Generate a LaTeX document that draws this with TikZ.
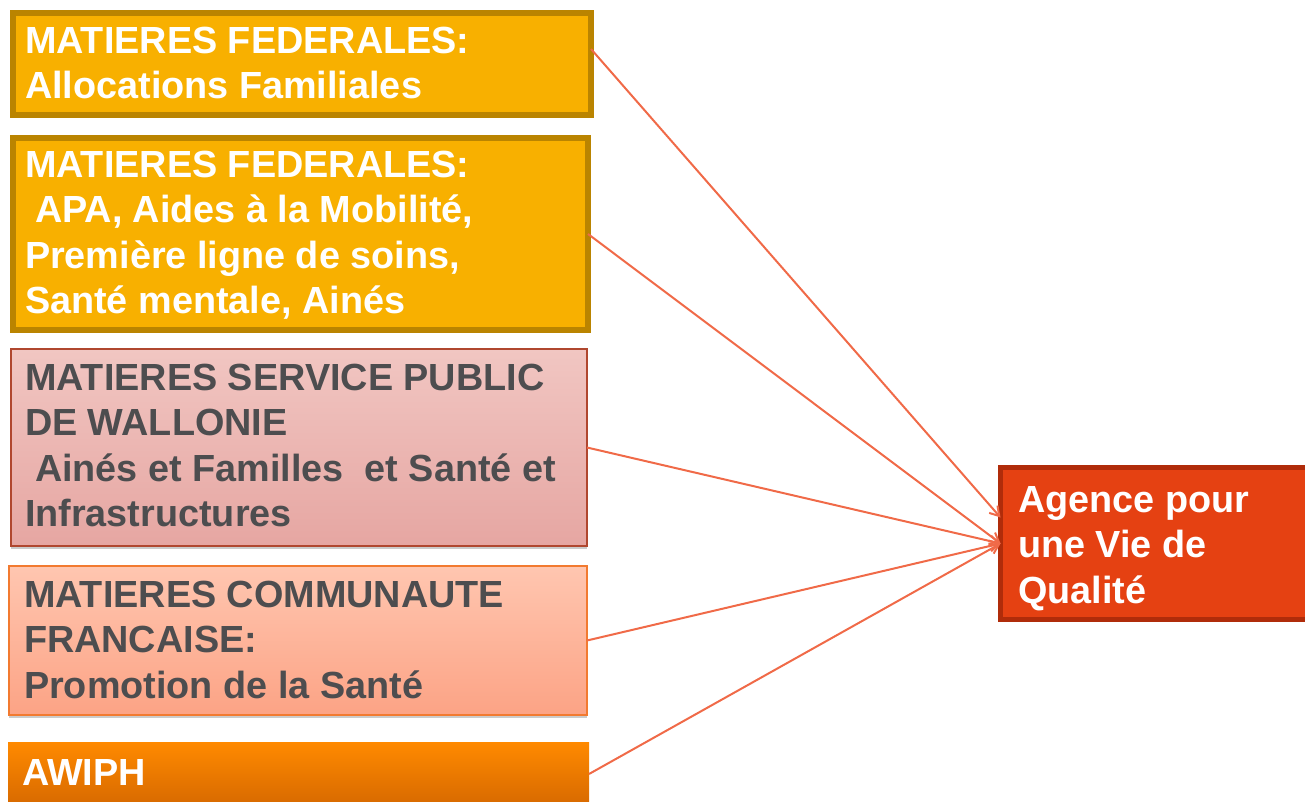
\documentclass[tikz,border=0pt]{standalone}
\usepackage{fontspec}
\setmainfont{Liberation Sans}
\usetikzlibrary{arrows.meta,shadows}
\definecolor{fedfill}{HTML}{F8B000}
\definecolor{fedline}{HTML}{BA8400}
\definecolor{spwtop}{HTML}{F1C6C2}
\definecolor{spwbot}{HTML}{E6A6A2}
\definecolor{spwline}{HTML}{B0472F}
\definecolor{cftop}{HTML}{FFC6B0}
\definecolor{cfbot}{HTML}{FCA385}
\definecolor{cfline}{HTML}{F27A30}
\definecolor{awtop}{HTML}{FF8A00}
\definecolor{awbot}{HTML}{D86A00}
\definecolor{agfill}{HTML}{E54112}
\definecolor{agline}{HTML}{B02C0A}
\definecolor{greytext}{HTML}{4D4D4F}
\definecolor{arrowcol}{HTML}{F06A48}
\newcommand\boxcontent[4]{\parbox[b][#2][t]{#1}{\fontsize{37.8bp}{45.5bp}\selectfont\bfseries\raggedright\rule{0pt}{#3}#4}}
\tikzset{
  box/.style={anchor=north west, inner ysep=0pt, outer sep=0pt, rectangle},
  shade3/.style={drop shadow={shadow xshift=0bp, shadow yshift=-3bp, fill=black!45, opacity=.45}},
  fedbox/.style={box, draw=fedline, fill=fedfill, line width=6bp, text=white, inner xsep=12bp},
  spwbox/.style={box, draw=spwline, top color=spwtop, bottom color=spwbot, line width=2.2bp, text=greytext, inner xsep=14bp, shade3},
  cfbox/.style={box, draw=cfline, top color=cftop, bottom color=cfbot, line width=2bp, text=greytext, inner xsep=15bp, shade3},
  awbox/.style={box, top color=awtop, bottom color=awbot, text=white, inner xsep=14bp},
  agbox/.style={box, draw=agline, fill=agfill, line width=5bp, text=white, inner xsep=17.5bp},
  arr/.style={draw=arrowcol, line width=2bp, -{Straight Barb[length=9bp,width=11bp]}}
}
\begin{document}
\begin{tikzpicture}[x=1bp,y=-1bp]
\useasboundingbox (0,0) rectangle (1305,801);
\node[fedbox] (f1) at (13,13) {\boxcontent{554bp}{102bp}{40bp}{MATIERES FEDERALES:\\Allocations Familiales}};
\node[fedbox] (f2) at (13,138) {\boxcontent{551bp}{192bp}{39bp}{MATIERES FEDERALES:\\\hspace*{10bp}APA, Aides à la Mobilité,\\Première ligne de soins,\\Santé mentale, Ainés}};
\node[spwbox] (spw) at (11,349) {\boxcontent{548bp}{197bp}{41bp}{MATIERES SERVICE PUBLIC\\DE WALLONIE\\\hspace*{10bp}Ainés et Familles\ \ et Santé et\\Infrastructures}};
\node[cfbox] (cf) at (9,566) {\boxcontent{548bp}{149bp}{41bp}{MATIERES COMMUNAUTE\\FRANCAISE:\\Promotion de la Santé}};
\node[awbox] (aw) at (8,742) {\boxcontent{553bp}{62bp}{43bp}{AWIPH}};
\node[agbox] (ag) at (1000.5,467.5) {\boxcontent{274.5bp}{152bp}{44.5bp}{Agence pour\\une Vie de\\Qualité}};
\draw[arr] ([yshift=15bp]f1.east) -- ([yshift=26bp]ag.west);
\draw[arr] (f2.east) -- (ag.west);
\draw[arr] (spw.east) -- (ag.west);
\draw[arr] (cf.east) -- (ag.west);
\draw[arr] ([yshift=-1bp]aw.east) -- (ag.west);
\end{tikzpicture}
\end{document}
